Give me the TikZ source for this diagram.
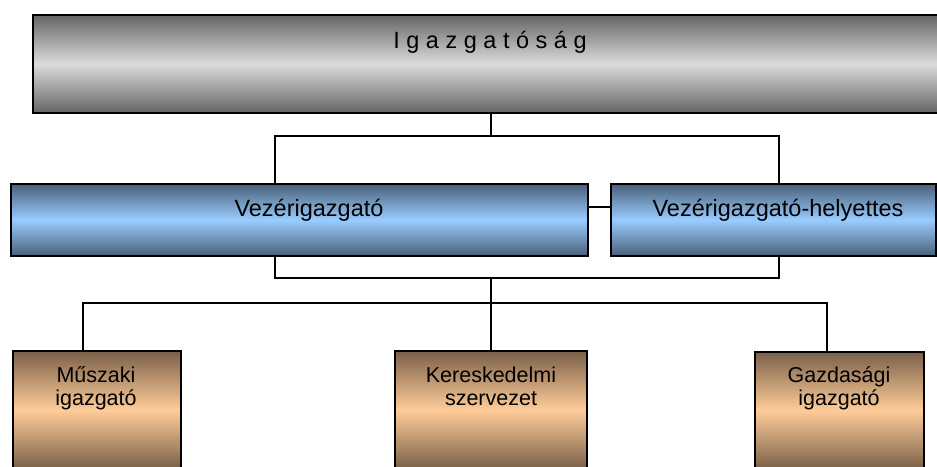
\documentclass[tikz,border=0pt]{standalone}
\usepackage{fontspec}
\setmainfont{Liberation Sans}
\definecolor{topdark}{HTML}{646464}
\definecolor{toplight}{HTML}{DCDCDC}
\definecolor{bluedark}{HTML}{4A6079}
\definecolor{bluelight}{HTML}{99CCFF}
\definecolor{browndark}{HTML}{7A6049}
\definecolor{brownlight}{HTML}{FFCC99}
\tikzset{
  boxbase/.style={draw=black, line width=1.8pt, rectangle, inner sep=0pt, anchor=north west},
  graybox/.style={boxbase, top color=topdark, bottom color=topdark, middle color=toplight},
  bluebox/.style={boxbase, top color=bluedark, bottom color=bluedark, middle color=bluelight},
  brownbox/.style={boxbase, top color=browndark, bottom color=browndark, middle color=brownlight},
  conn/.style={draw=black, line width=1.5pt},
  bigtext/.style={anchor=base, inner sep=0pt, font=\fontsize{23.5}{26}\selectfont},
  smalltext/.style={anchor=base, inner sep=0pt, font=\fontsize{21.5}{23.5}\selectfont}
}
\begin{document}
\begin{tikzpicture}[x=1pt, y=-1pt]
\useasboundingbox (0,0) rectangle (937,466);
% boxes
\node[graybox, minimum width=906pt, minimum height=98pt] (top) at (32,14) {};
\node[bluebox, minimum width=577pt, minimum height=72pt] (vez) at (10,183) {};
\node[bluebox, minimum width=325pt, minimum height=72pt] (hely) at (610,183) {};
\node[brownbox, minimum width=168pt, minimum height=118pt] (m) at (12,350) {};
\node[brownbox, minimum width=192pt, minimum height=118pt] (k) at (394,350) {};
\node[brownbox, minimum width=169pt, minimum height=117pt] (g) at (754,351) {};
% texts
\node[bigtext] (toptext) at (490,48) {I g a z g a t ó s á g};
\node[bigtext] (veztext) at (309,216) {Vezérigazgató};
\node[bigtext] (helytext) at (778,216) {Vezérigazgató-helyettes};
\node[smalltext] (mtext) at (96,382) {\begin{tabular}[t]{@{}c@{}}Műszaki\\igazgató\end{tabular}};
\node[smalltext] (ktext) at (491,382) {\begin{tabular}[t]{@{}c@{}}Kereskedelmi\\szervezet\end{tabular}};
\node[smalltext] (gtext) at (839,382) {\begin{tabular}[t]{@{}c@{}}Gazdasági\\igazgató\end{tabular}};
% junction coordinates
\coordinate (t1) at (491,136);
\coordinate (tl) at (275,136);
\coordinate (tr) at (779,136);
\coordinate (mid) at (598,207);
\coordinate (bl) at (275,278);
\coordinate (br) at (779,278);
\coordinate (b1) at (491,278);
\coordinate (d1) at (491,303);
\coordinate (dl) at (83,303);
\coordinate (dr) at (827,303);
% connectors
\draw[conn] (top.south -| t1) -- (t1);
\draw[conn] (vez.north -| tl) -- (tl) -- (tr) -- (hely.north -| tr);
\draw[conn] (vez.east |- mid) -- (hely.west |- mid);
\draw[conn] (vez.south -| bl) -- (bl) -- (br) -- (hely.south -| br);
\draw[conn] (b1) -- (d1);
\draw[conn] (m.north -| dl) -- (dl) -- (dr) -- (g.north -| dr);
\draw[conn] (d1) -- (k.north -| d1);
\end{tikzpicture}
\end{document}
